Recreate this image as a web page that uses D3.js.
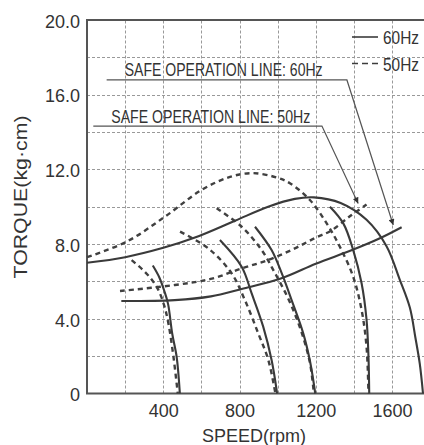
<!DOCTYPE html>
<meta charset="utf-8">
<title>torque curves</title>
<style>
    body { margin: 0; background: #fff; }
    svg { display: block; font-family: "Liberation Sans", Arial, sans-serif; }
    .tick text { fill: #333; font-size: 18px; }
    .curve { fill: none; stroke: #3a3a3a; stroke-width: 2.1; }
    .curve.dash { stroke: #404040; stroke-width: 2.4; stroke-dasharray: 5,4; }
</style>
<body>
<script src="https://cdn.jsdelivr.net/npm/d3@7"></script>
<script>
    var width = 424;
    var height = 445;
    var margin = {top: 20, right: 1, bottom: 51.5, left: 87};

    // speed (rpm) / torque (kg·cm)
    var max60 = [[0,7.0],[200,7.3],[400,7.8],[566,8.35],[776,9.25],[950,10.0],[1090,10.42],[1190,10.5],
                 [1330,10.2],[1466,9.3],[1570,7.9],[1640,6.1],[1693,4.6],[1722,3.0],[1745,1.6],[1762,0]];
    var max50 = [[0,7.3],[208,8.13],[409,9.47],[601,10.9],[750,11.6],[870,11.8],[1000,11.55],[1064,11.26],
                 [1169,10.36],[1257,9.11],[1326,7.86],[1396,6.25],[1440,4.47],[1466,2.5],[1476,0]];
    var safe60 = [[180,4.95],[460,5.0],[650,5.2],[811,5.6],[1020,6.17],[1200,6.95],[1390,7.68],[1536,8.31],[1650,8.9]];
    var safe50 = [[173,5.49],[461,5.81],[655,6.15],[811,6.7],[951,7.15],[1090,7.77],[1200,8.35],[1280,8.72],[1380,9.5],[1466,10.12]];

    var fall60 = [
        [[345,6.85],[380,6.2],[405,5.5],[425,4.8],[447,3.2],[470,1.97],[487,0]],
        [[697,8.22],[811,6.79],[863,5.37],[924,3.58],[968,1.79],[997,0]],
        [[881,8.93],[968,7.68],[1021,6.44],[1073,5.0],[1134,3.22],[1170,1.7],[1197,0]],
        [[1274,10.0],[1344,9.11],[1396,7.68],[1440,5.9],[1466,3.94],[1476,2.0],[1480,0]]
    ];
    var fall50 = [
        [[234,7.14],[290,6.65],[339,6.1],[374,5.55],[405,4.7],[426,3.8],[453,2.0],[476,0]],
        [[488,8.67],[636,7.77],[758,6.44],[828,5.0],[898,3.22],[951,1.79],[988,0]],
        [[680,9.92],[811,8.93],[916,7.68],[986,6.44],[1050,5.2],[1100,4.0],[1140,2.8],[1170,1.6],[1190,0]]
    ];

    var xTicks = [400, 800, 1200, 1600];
    var yTicks = [0, 4, 8, 12, 16, 20];
    var xGrid = [200, 400, 600, 800, 1000, 1200, 1400, 1600];
    var yGrid = [2, 4, 6, 8, 10, 12, 14, 16, 18];

    // safe operation labels: leader start, corner, arrow tip
    var notes = [
        {text: "SAFE OPERATION  LINE: 60Hz", pts: [[103,16.79],[1363,16.79],[1606,9.02]], len: 198},
        {text: "SAFE OPERATION  LINE: 50Hz", pts: [[33,14.32],[1232,14.32],[1422,10.18]], len: 199}
    ];

    var x = d3.scaleLinear().domain([0, 1762]).range([margin.left, width - margin.right]);
    var y = d3.scaleLinear().domain([0, 20]).range([height - margin.bottom, margin.top]);

    var svg = d3.select("body").append("svg")
        .attr("width", width)
        .attr("height", height);

    // dotted grid, snapped to pixel centres
    var snap = v => Math.round(v) + 0.5;
    var grid = svg.append("g");
    grid.selectAll(".gx").data(xGrid).enter().append("line")
        .attr("x1", d => snap(x(d))).attr("x2", d => snap(x(d)))
        .attr("y1", y(0)).attr("y2", y(20));
    grid.selectAll(".gy").data(yGrid).enter().append("line")
        .attr("x1", x(0)).attr("x2", width)
        .attr("y1", d => snap(y(d))).attr("y2", d => snap(y(d)));
    grid.selectAll("line")
        .style("stroke", "#999")
        .style("stroke-width", 1)
        .style("stroke-dasharray", "3,2");

    // axes
    svg.append("g")
        .attr("transform", "translate(" + margin.left + ",0)")
        .call(d3.axisLeft(y).tickValues(yTicks).tickSize(0).tickPadding(7)
            .tickFormat(d => d === 0 ? "0" : d3.format(".1f")(d)))
        .call(g => g.select(".domain").remove())
        .selectAll("text").attr("dy", "0.4em").style("font-family", "inherit");

    svg.append("g")
        .attr("transform", "translate(0," + y(0) + ")")
        .call(d3.axisBottom(x).tickValues(xTicks).tickSize(0).tickPadding(11)
            .tickFormat(d3.format("d")))
        .call(g => g.select(".domain").remove())
        .selectAll("text").style("font-family", "inherit");

    // frame
    svg.append("path")
        .attr("d", "M" + width + "," + y(20) + "H" + x(0) + "V" + y(0) + "H" + width)
        .attr("fill", "none")
        .attr("stroke", "#555")
        .attr("stroke-width", 2);

    // axis titles
    svg.append("text")
        .attr("transform", "translate(27," + 197 + ") rotate(-90)")
        .attr("text-anchor", "middle")
        .attr("textLength", 163)
        .attr("lengthAdjust", "spacingAndGlyphs")
        .style("font-size", "18px")
        .style("fill", "#333")
        .text("TORQUE(kg·cm)");

    svg.append("text")
        .attr("x", 254)
        .attr("y", 442)
        .attr("text-anchor", "middle")
        .style("font-size", "18px")
        .style("fill", "#333")
        .text("SPEED(rpm)");

    // curves
    var line = d3.line()
        .x(d => x(d[0]))
        .y(d => y(d[1]))
        .curve(d3.curveCatmullRom.alpha(0.5));

    var solid = [max60, safe60].concat(fall60);
    var dashed = [max50, safe50].concat(fall50);

    svg.append("g").selectAll("path").data(dashed).enter().append("path")
        .attr("class", "curve dash")
        .attr("d", line);
    svg.append("g").selectAll("path").data(solid).enter().append("path")
        .attr("class", "curve")
        .attr("d", line);

    // arrow head
    svg.append("defs").append("marker")
        .attr("id", "head")
        .attr("viewBox", "0 0 10 10")
        .attr("refX", 10).attr("refY", 5)
        .attr("markerWidth", 9).attr("markerHeight", 6)
        .attr("markerUnits", "userSpaceOnUse")
        .attr("orient", "auto")
        .append("path")
        .attr("d", "M0,0L10,5L0,10Z")
        .attr("fill", "#333");

    var note = svg.append("g").selectAll("g").data(notes).enter().append("g");
    note.append("path")
        .attr("d", d => d3.line().x(p => x(p[0])).y(p => y(p[1]))(d.pts))
        .attr("fill", "none")
        .attr("stroke", "#555")
        .attr("stroke-width", 1.2)
        .attr("marker-end", "url(#head)");
    note.append("text")
        .attr("x", d => x(d.pts[0][0]) + 18)
        .attr("y", d => y(d.pts[0][1]) - 3.5)
        .attr("textLength", d => d.len)
        .attr("lengthAdjust", "spacingAndGlyphs")
        .style("font-size", "18.5px")
        .style("fill", "#333")
        .text(d => d.text);

    // legend
    var legend = svg.append("g").selectAll("g")
        .data([{label: "60Hz", dash: null, y: 37}, {label: "50Hz", dash: "6,4", y: 63.5}])
        .enter().append("g");
    legend.append("line")
        .attr("x1", 352).attr("x2", 378)
        .attr("y1", d => d.y).attr("y2", d => d.y)
        .attr("stroke", "#3c3c3c")
        .attr("stroke-width", 1.6)
        .attr("stroke-dasharray", d => d.dash);
    legend.append("text")
        .attr("x", 383)
        .attr("y", d => d.y + 7)
        .attr("textLength", 36)
        .attr("lengthAdjust", "spacingAndGlyphs")
        .style("font-size", "18px")
        .style("fill", "#333")
        .text(d => d.label);
</script>
</body>
